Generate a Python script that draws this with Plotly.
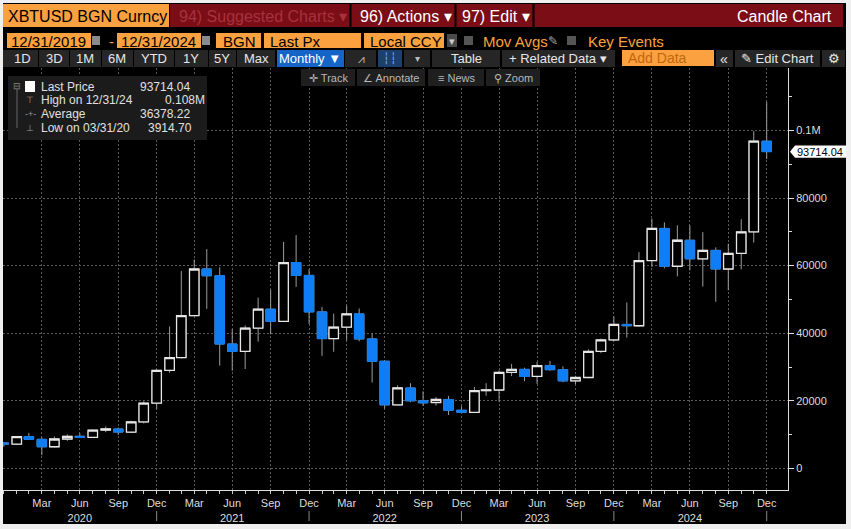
import plotly.graph_objects as go

# monthly candles, XBTUSD BGN Curncy, Dec 2019 - Dec 2024
dates = ["2019-12-31",
         "2020-01-31", "2020-02-29", "2020-03-31", "2020-04-30", "2020-05-31", "2020-06-30",
         "2020-07-31", "2020-08-31", "2020-09-30", "2020-10-31", "2020-11-30", "2020-12-31",
         "2021-01-31", "2021-02-28", "2021-03-31", "2021-04-30", "2021-05-31", "2021-06-30",
         "2021-07-31", "2021-08-31", "2021-09-30", "2021-10-31", "2021-11-30", "2021-12-31",
         "2022-01-31", "2022-02-28", "2022-03-31", "2022-04-30", "2022-05-31", "2022-06-30",
         "2022-07-31", "2022-08-31", "2022-09-30", "2022-10-31", "2022-11-30", "2022-12-31",
         "2023-01-31", "2023-02-28", "2023-03-31", "2023-04-30", "2023-05-31", "2023-06-30",
         "2023-07-31", "2023-08-31", "2023-09-30", "2023-10-31", "2023-11-30", "2023-12-31",
         "2024-01-31", "2024-02-29", "2024-03-31", "2024-04-30", "2024-05-31", "2024-06-30",
         "2024-07-31", "2024-08-31", "2024-09-30", "2024-10-31", "2024-11-30", "2024-12-31"]

opens = [7550,
         7200, 9400, 8600, 6400, 8700, 9500, 9150, 11350, 11650, 10750, 13750, 19300,
         29000, 32800, 45200, 59000, 57000, 36800, 34600, 41500, 47100, 43500, 60900, 57100,
         46300, 38400, 41800, 45700, 38300, 31700, 18800, 23800, 20000, 19500, 20400, 17200,
         16600, 23000, 23200, 28400, 29300, 27200, 30400, 29200, 25900, 26900, 34600, 38000,
         42600, 42200, 61500, 71000, 59800, 67500, 62000, 64500, 59000, 63600, 70000, 96800]
highs = [7750,
         9600, 10500, 9150, 9450, 10050, 10400, 11450, 12450, 12100, 14100, 19850, 29300,
         42000, 58400, 61800, 64900, 59500, 41200, 42300, 50500, 52900, 67000, 69000, 58900,
         47800, 45800, 48200, 47300, 39900, 31900, 24600, 25200, 22800, 21100, 21400, 18400,
         24100, 25200, 29000, 30900, 29800, 31500, 31800, 30200, 27400, 35200, 38400, 44900,
         49100, 64000, 73900, 72800, 71900, 71900, 69900, 65400, 66500, 73700, 99800, 108400]
lows = [6430,
        6900, 8450, 3914.70, 6200, 8150, 8950, 8950, 10700, 9900, 10450, 13300, 17600,
        28300, 32500, 45000, 47200, 30400, 28900, 29400, 37500, 39700, 43300, 53700, 42700,
        33300, 34500, 37800, 37600, 25400, 17700, 18700, 19600, 18500, 18600, 15800, 16500,
        16500, 21500, 19700, 27300, 25800, 25000, 28900, 25500, 24900, 26700, 34100, 37600,
        38700, 41900, 59600, 59200, 56800, 58600, 53800, 49300, 52700, 58900, 66800, 91500]
closes = [7200,
          9400, 8600, 6400, 8700, 9500, 9150, 11300, 11650, 10750, 13750, 19300, 29000,
          32800, 45200, 59000, 57000, 36800, 34600, 41500, 47100, 43500, 60900, 57100, 46300,
          38400, 41800, 45700, 38300, 31700, 18800, 23800, 20000, 19400, 20400, 17200, 16600,
          23000, 23200, 28400, 29300, 27200, 30400, 29200, 25900, 26900, 34600, 38000, 42600,
          42200, 61500, 71000, 59800, 67500, 62000, 64500, 59000, 63600, 70000, 96800, 93714.04]

quarter_ticks = ["2020-03-31", "2020-06-30", "2020-09-30", "2020-12-31",
                 "2021-03-31", "2021-06-30", "2021-09-30", "2021-12-31",
                 "2022-03-31", "2022-06-30", "2022-09-30", "2022-12-31",
                 "2023-03-31", "2023-06-30", "2023-09-30", "2023-12-31",
                 "2024-03-31", "2024-06-30", "2024-09-30", "2024-12-31"]
quarter_labels = ["Mar", "Jun<br>2020", "Sep", "Dec",
                  "Mar", "Jun<br>2021", "Sep", "Dec",
                  "Mar", "Jun<br>2022", "Sep", "Dec",
                  "Mar", "Jun<br>2023", "Sep", "Dec",
                  "Mar", "Jun<br>2024", "Sep", "Dec"]
year_breaks = ["2020-12-31", "2021-12-31", "2022-12-31", "2023-12-31", "2024-12-31"]

y_ticks = [0, 20000, 40000, 60000, 80000, 100000]
y_labels = ["0", "20000", "40000", "60000", "80000", "0.1M"]
y_minor = [10000, 30000, 50000, 70000, 90000, 110000]

stat_names = ["Last Price", "High on 12/31/24", "Average", "Low on 03/31/20"]
stat_values = ["93714.04", "0.108M", "36378.22", "3914.70"]

FONT = "Liberation Sans, Arial, sans-serif"
ORANGE = "#fba13f"
RED = "#7b0d17"
BLUE = "#0f7df5"
WICK = "#9c9c9c"
GRID = "#5a5a5a"

# plot area in pixels
L, R, T, B = 3, 788, 68, 490


def px(x):
    return (x - L) / (R - L)


def py(y):
    return (B - y) / (B - T)


shapes = []
annots = []


def box(x0, y0, x1, y1, color, layer="above"):
    shapes.append(dict(type="rect", xref="paper", yref="paper", x0=px(x0), x1=px(x1),
                       y0=py(y1), y1=py(y0), fillcolor=color, line=dict(width=0), layer=layer))


def vline(x, y0, y1, color, width=1):
    shapes.append(dict(type="line", xref="paper", yref="paper", x0=px(x), x1=px(x),
                       y0=py(y1), y1=py(y0), line=dict(color=color, width=width), layer="above"))


def text(x, y, s, size=12, color="#dddddd", anchor="left"):
    annots.append(dict(xref="paper", yref="paper", x=px(x), y=py(y), text=s, showarrow=False,
                       xanchor=anchor, yanchor="middle",
                       font=dict(family=FONT, size=size, color=color)))


# black screen
box(3, 3, 846, 524, "#000000", layer="below")

# row 1
box(3, 4, 169, 27, ORANGE)
box(170, 4, 843, 27, RED)
for sx in [350.5, 455.5, 533.5]:
    vline(sx, 4, 27, "#000000", 2)
text(6, 16, "XBTUSD BGN Curncy", 16, "#000000")
text(177, 16, "94) Suggested Charts ▾", 16, "#a6323c")
text(358, 16, "96) Actions ▾", 16, "#ffffff")
text(460, 16, "97) Edit ▾", 16, "#ffffff")
text(834, 16, "Candle Chart", 16, "#ffffff", "right")

# row 2
for x0, x1 in [(7, 91), (117, 201), (216, 261), (264, 361), (364, 444)]:
    box(x0, 33, x1, 48, ORANGE)
for cx in [96, 206]:
    box(cx - 4, 36, cx + 4, 45, "#8a8a8a")
box(447, 34, 457, 47, "#4a4a4a")
box(464, 36, 473, 45, "#555555")
box(567, 36, 576, 45, "#555555")
text(9, 41, "12/31/2019", 15, "#000000")
text(107, 41, "-", 15, ORANGE)
text(119, 41, "12/31/2024", 15, "#000000")
text(221, 41, "BGN", 15, "#000000")
text(268, 41, "Last Px", 15, "#000000")
text(368, 41, "Local CCY", 15, "#000000")
text(452, 41, "▾", 11, "#cccccc", "center")
text(481, 41, "Mov Avgs", 15, ORANGE)
text(546, 41, "✎", 12, "#aaaaaa")
text(586, 41, "Key Events", 15, ORANGE)

# row 3
for x0, x1 in [(3, 38), (39, 69), (70, 101), (102, 133), (134, 174), (175, 208), (209, 236),
               (237, 275), (345, 376), (404, 430), (432, 500), (502, 615), (716, 733),
               (735, 820), (822, 845)]:
    box(x0, 50, x1, 67, "#262626")
box(277, 50, 344, 67, "#1565c8")
box(378, 50, 402, 67, "#1d3f6e")
box(622, 50, 714, 66, ORANGE)
for cx, s in [(22, "1D"), (54, "3D"), (85, "1M"), (117, "6M"), (154, "YTD"),
              (191, "1Y"), (222, "5Y"), (256, "Max")]:
    text(cx, 59, s, 13, "#e6e6e6", "center")
text(310, 59, "Monthly ▼", 13, "#ffffff", "center")
text(361, 59, "⩘", 12, "#bbbbbb", "center")
text(390, 59, "┆┆", 11, "#7fb4ff", "center")
text(417, 59, "▾", 10, "#bbbbbb", "center")
text(466, 59, "Table", 13, "#e6e6e6", "center")
text(558, 59, "+ Related Data ▾", 13, "#e6e6e6", "center")
text(626, 58, "Add Data", 14, "#c2660f")
text(724, 59, "«", 14, "#e6e6e6", "center")
text(777, 59, "✎ Edit Chart", 13, "#e6e6e6", "center")
text(834, 59, "⚙", 13, "#e6e6e6", "center")

# row 4 (overlaps plot top)
for (x0, x1), s in zip([(301, 355), (357, 425), (428, 484), (486, 540)],
                       ["✛ Track", "∠ Annotate", "≡ News", "⚲ Zoom"]):
    box(x0, 69, x1, 86, "#1f1f1f")
    text((x0 + x1) / 2, 77.5, s, 11, "#b8b8b8", "center")

# stats legend
box(8, 76, 207, 140, "#1b1b1b")
box(25, 81, 35, 92, "#ffffff")
vline(17, 89, 128, "#666666")
text(17, 86, "⊟", 9, "#888888", "center")
for yy, g in [(100, "⊤"), (114, "-+-"), (128, "⊥")]:
    text(30, yy, g, 9, "#999999", "center")
for yy, name, val, vx in zip([87, 100, 114, 128], stat_names, stat_values, [138, 163, 138, 146]):
    text(39, yy, name, 12, "#e0e0e0")
    text(vx, yy, val, 12, "#e0e0e0")

# year separators under the axis
for d in year_breaks:
    shapes.append(dict(type="line", xref="x", yref="paper", x0=d, x1=d, y0=py(521), y1=py(511),
                       line=dict(color="#888888", width=1), layer="above"))

# last price marker
c = closes[-1]
h = 1800
shapes.append(dict(type="path", xref="paper", yref="y", layer="above",
                   path=f"M {px(790)},{c} L {px(795)},{c + h} L {px(846)},{c + h} "
                        f"L {px(846)},{c - h} L {px(795)},{c - h} Z",
                   fillcolor="#ffffff", line=dict(width=0)))
annots.append(dict(xref="paper", yref="y", x=px(820), y=c, text=f"{c:.2f}", showarrow=False,
                   xanchor="center", yanchor="middle", font=dict(family=FONT, size=11, color="#000000")))

body_hi = [max(o, cl) for o, cl in zip(opens, closes)]
body_lo = [min(o, cl) for o, cl in zip(opens, closes)]

fig = go.Figure()
# wicks
fig.add_trace(go.Candlestick(x=dates, open=opens, high=highs, low=lows, close=closes,
                             increasing=dict(line=dict(color=WICK, width=1), fillcolor=WICK),
                             decreasing=dict(line=dict(color=WICK, width=1), fillcolor=WICK),
                             showlegend=False, hoverinfo="skip"))
# bodies
fig.add_trace(go.Candlestick(x=dates, open=opens, high=body_hi, low=body_lo, close=closes,
                             increasing=dict(line=dict(color="#e6e6e6", width=1.3), fillcolor="#000000"),
                             decreasing=dict(line=dict(color=BLUE, width=1), fillcolor=BLUE),
                             showlegend=False, name="XBTUSD"))

fig.update_layout(
    width=851, height=529,
    margin=dict(l=L, r=851 - R, t=T, b=529 - B, pad=0),
    paper_bgcolor="#efefef",
    plot_bgcolor="rgba(0,0,0,0)",
    boxgap=0.1, boxgroupgap=0.1,
    showlegend=False,
    font=dict(family=FONT, size=11, color="#dddddd"),
    xaxis=dict(type="date", range=["2019-12-29", "2025-02-20"],
               rangeslider=dict(visible=False),
               tickmode="array", tickvals=quarter_ticks, ticktext=quarter_labels,
               ticks="outside", ticklen=3, tickcolor="#cccccc",
               showline=True, linecolor="#dddddd", linewidth=1,
               showgrid=True, gridcolor=GRID, griddash="2px,2px", gridwidth=1,
               zeroline=False,
               minor=dict(tickmode="array", tickvals=dates, ticks="outside", ticklen=3,
                          tickcolor="#cccccc", showgrid=False),
               tickfont=dict(family=FONT, size=11, color="#dddddd")),
    yaxis=dict(side="right", range=[-6390, 118460],
               tickmode="array", tickvals=y_ticks, ticktext=y_labels,
               ticks="outside", ticklen=5, tickcolor="#dddddd",
               showline=True, linecolor="#dddddd", linewidth=1,
               showgrid=True, gridcolor=GRID, griddash="2px,2px", gridwidth=1,
               zeroline=False,
               minor=dict(tickmode="array", tickvals=y_minor, ticks="outside", ticklen=3,
                          tickcolor="#dddddd", showgrid=False),
               tickfont=dict(family=FONT, size=11, color="#dddddd")),
    shapes=shapes,
    annotations=annots,
)

# page margin off so the figure sits at the window's top-left corner
fig.write_html("out.html", config={"displayModeBar": False},
               post_script="document.body.style.margin='0';")
